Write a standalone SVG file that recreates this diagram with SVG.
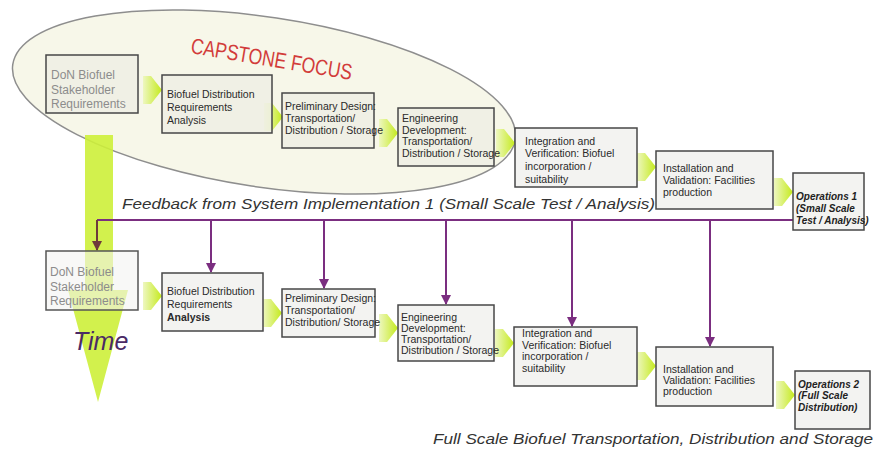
<svg xmlns="http://www.w3.org/2000/svg" width="875" height="459" viewBox="0 0 875 459">
<defs>
<style>
.box{fill:#f3f3f1;stroke:#474747;stroke-width:1.5}
.boxt{fill:#eeeee4;fill-opacity:0.85;stroke:#474747;stroke-width:1.5}
.boxg{fill:#f4f4f2;fill-opacity:0.6;stroke:#555;stroke-width:1.5}
.t{font-family:"Liberation Sans",Arial,sans-serif;font-size:10.5px;fill:#2a2a2a}
.g{font-family:"Liberation Sans",Arial,sans-serif;font-size:12px;fill:#8c8c8c}
.ops{font-family:"Liberation Sans",Arial,sans-serif;font-size:10px;font-weight:bold;font-style:italic;fill:#222}
.cap{font-family:"Liberation Sans",Arial,sans-serif;font-size:14px;font-style:italic;fill:#333}
.fb{stroke:#7b2e80;stroke-width:2;fill:none}
</style>
<linearGradient id="cg" x1="0" y1="0" x2="1" y2="0">
<stop offset="0" stop-color="#eef7c0"/>
<stop offset="1" stop-color="#c4ea1c"/>
</linearGradient>
<path id="chev" d="M0,-14 L8,-14 L19,0 L8,14 L0,14 Z" fill="url(#cg)"/>
<marker id="ah" viewBox="0 0 10 10" refX="9" refY="5" markerWidth="5" markerHeight="5" orient="auto">
<path d="M0,0 L10,5 L0,10 Z" fill="#7b2e80"/>
</marker>
<marker id="ahb" viewBox="0 0 10 10" refX="9" refY="5" markerWidth="5" markerHeight="5" orient="auto">
<path d="M0,0 L10,5 L0,10 Z" fill="#6e3b3b"/>
</marker>
</defs>
<rect width="875" height="459" fill="#ffffff"/>

<g id="capstone-focus">
<ellipse cx="264" cy="102" rx="254" ry="85" transform="rotate(8.5 264 102)" fill="#f7f7e9" stroke="#8e8e8e" stroke-width="1.5"/>
<text x="190" y="53" transform="rotate(9.5 190 53)" font-family="'Liberation Sans',Arial,sans-serif" font-size="22" fill="#d23c3a" textLength="163" lengthAdjust="spacingAndGlyphs">CAPSTONE FOCUS</text>
</g>

<g id="time-arrow">
<path d="M85,135 L113,135 L113,290 L128,290 L98,402 L68,290 L85,290 Z" fill="#cdf03a" fill-opacity="0.9"/>
</g>

<g id="chevrons">
<use href="#chev" transform="translate(143,90)"/>
<use href="#chev" transform="translate(264,117)"/>
<use href="#chev" transform="translate(379,133)"/>
<use href="#chev" transform="translate(496,143)"/>
<use href="#chev" transform="translate(637,167)"/>
<use href="#chev" transform="translate(774,192)"/>
<use href="#chev" transform="translate(143,296)"/>
<use href="#chev" transform="translate(263,313)"/>
<use href="#chev" transform="translate(379,328)"/>
<use href="#chev" transform="translate(495,343)"/>
<use href="#chev" transform="translate(637,366)"/>
<use href="#chev" transform="translate(776,395)"/>
</g>

<g id="connectors">
<path class="fb" d="M97,220 L793,220"/>
<path d="M97,220 L97,250" stroke="#6e3b3b" stroke-width="2" fill="none" marker-end="url(#ahb)"/>
<path class="fb" d="M211,220 L211,272" marker-end="url(#ah)"/>
<path class="fb" d="M324,220 L324,288" marker-end="url(#ah)"/>
<path class="fb" d="M446,220 L446,304" marker-end="url(#ah)"/>
<path class="fb" d="M572,220 L572,326" marker-end="url(#ah)"/>
<path class="fb" d="M710,220 L710,346" marker-end="url(#ah)"/>
</g>

<g id="top-don">
<rect class="boxt" x="46" y="55" width="92" height="58"/>
<text class="g"><tspan x="51" y="79">DoN Biofuel</tspan><tspan x="51" y="94">Stakeholder</tspan><tspan x="51" y="108">Requirements</tspan></text>
</g>
<g id="top-biofuel">
<rect class="boxt" x="162" y="75" width="110" height="58"/>
<text class="t" font-size="11"><tspan x="167" y="98">Biofuel Distribution</tspan><tspan x="167" y="111">Requirements</tspan><tspan x="167" y="124">Analysis</tspan></text>
</g>
<g id="top-prelim">
<rect class="boxt" x="282" y="93" width="92" height="55"/>
<text class="t"><tspan x="285" y="110">Preliminary Design:</tspan><tspan x="285" y="122">Transportation/</tspan><tspan x="285" y="134">Distribution / Storage</tspan></text>
</g>
<g id="top-eng">
<rect class="boxt" x="398" y="108" width="96" height="58"/>
<text class="t"><tspan x="402" y="122">Engineering</tspan><tspan x="402" y="133.5">Development:</tspan><tspan x="402" y="145">Transportation/</tspan><tspan x="402" y="156.5">Distribution / Storage</tspan></text>
</g>
<g id="top-integ">
<rect class="box" x="515" y="128" width="122" height="59"/>
<text class="t"><tspan x="525" y="145">Integration and</tspan><tspan x="525" y="157">Verification: Biofuel</tspan><tspan x="525" y="170">incorporation /</tspan><tspan x="525" y="183">suitability</tspan></text>
</g>
<g id="top-install">
<rect class="box" x="656" y="151" width="117" height="58"/>
<text class="t"><tspan x="663" y="172">Installation and</tspan><tspan x="663" y="184">Validation: Facilities</tspan><tspan x="663" y="196">production</tspan></text>
</g>
<g id="top-ops1">
<rect class="box" x="793" y="173" width="71" height="57"/>
<text class="ops"><tspan x="796" y="200">Operations 1</tspan><tspan x="796" y="212">(Small Scale</tspan><tspan x="796" y="224">Test / Analysis)</tspan></text>
</g>

<g id="bot-don">
<rect class="boxg" x="46" y="251" width="92" height="59"/>
<text class="g"><tspan x="50" y="276">DoN Biofuel</tspan><tspan x="50" y="291">Stakeholder</tspan><tspan x="50" y="305">Requirements</tspan></text>
</g>
<g id="bot-biofuel">
<rect class="box" x="162" y="273" width="101" height="58"/>
<text class="t"><tspan x="167" y="295">Biofuel Distribution</tspan><tspan x="167" y="308">Requirements</tspan><tspan x="167" y="321" font-weight="bold">Analysis</tspan></text>
</g>
<g id="bot-prelim">
<rect class="box" x="282" y="289" width="93" height="48"/>
<text class="t" font-size="10"><tspan x="285" y="302">Preliminary Design:</tspan><tspan x="285" y="314">Transportation/</tspan><tspan x="285" y="326">Distribution/ Storage</tspan></text>
</g>
<g id="bot-eng">
<rect class="box" x="398" y="305" width="96" height="56"/>
<text class="t" font-size="10"><tspan x="401" y="321">Engineering</tspan><tspan x="401" y="332">Development:</tspan><tspan x="401" y="343">Transportation/</tspan><tspan x="401" y="354">Distribution / Storage</tspan></text>
</g>
<g id="bot-integ">
<rect class="box" x="514" y="327" width="123" height="59"/>
<text class="t"><tspan x="522" y="337">Integration and</tspan><tspan x="522" y="348.5">Verification: Biofuel</tspan><tspan x="522" y="360">incorporation /</tspan><tspan x="522" y="371.5">suitability</tspan></text>
</g>
<g id="bot-install">
<rect class="box" x="656" y="347" width="117" height="59"/>
<text class="t"><tspan x="663" y="373">Installation and</tspan><tspan x="663" y="384">Validation: Facilities</tspan><tspan x="663" y="395">production</tspan></text>
</g>
<g id="bot-ops2">
<rect class="box" x="795" y="371" width="75" height="58"/>
<text class="ops"><tspan x="798" y="388">Operations 2</tspan><tspan x="798" y="399">(Full Scale</tspan><tspan x="798" y="411">Distribution)</tspan></text>
</g>

<g id="labels">
<text x="73" y="350" font-family="'Liberation Sans',Arial,sans-serif" font-size="25" font-style="italic" fill="#4a2a66">Time</text>
<text class="cap" x="122" y="209" textLength="533" lengthAdjust="spacingAndGlyphs">Feedback from System Implementation 1 (Small Scale Test / Analysis)</text>
<text class="cap" x="433" y="444" textLength="440" lengthAdjust="spacingAndGlyphs">Full Scale Biofuel Transportation, Distribution and Storage</text>
</g>
</svg>
